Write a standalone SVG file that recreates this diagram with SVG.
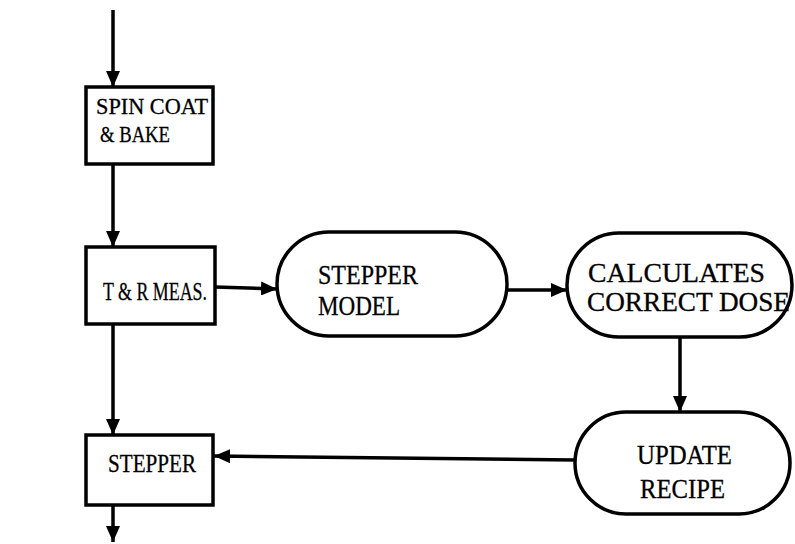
<svg xmlns="http://www.w3.org/2000/svg" width="795" height="544" viewBox="0 0 795 544">
  <defs>
    <marker id="head" viewBox="0 0 16 14" refX="16" refY="7" markerWidth="16" markerHeight="14" orient="auto" markerUnits="userSpaceOnUse">
      <path d="M0,0 L16,7 L0,14 Z" fill="#000"/>
    </marker>
  </defs>
  <style>
    .box { fill: #fff; stroke: #000; stroke-width: 3.5; }
    .line { fill: none; stroke: #000; stroke-width: 3.5; marker-end: url(#head); }
    text { font-family: 'Liberation Serif', 'Times New Roman', Times, serif; font-size: 26px; fill: #000; stroke: #000; stroke-width: 0.3; }
    .small { font-size: 23px; }
    .big { font-size: 27px; }
  </style>
  <rect width="795" height="544" fill="#fff"/>

  <!-- flow connectors -->
  <g id="connectors">
    <line class="line" x1="113" y1="10" x2="113" y2="87"/>
    <line class="line" x1="113" y1="164" x2="113" y2="247"/>
    <line class="line" x1="215" y1="287" x2="277" y2="289"/>
    <line class="line" x1="507" y1="290" x2="567" y2="290"/>
    <line class="line" x1="680" y1="337" x2="680" y2="412"/>
    <line class="line" x1="575" y1="460" x2="214" y2="456"/>
    <line class="line" x1="113" y1="324" x2="113" y2="435"/>
    <line class="line" x1="113" y1="505" x2="113" y2="542"/>
  </g>

  <g id="spin-coat">
    <rect class="box" x="86" y="87" width="127" height="77"/>
    <text class="small" x="96" y="114" textLength="112" lengthAdjust="spacingAndGlyphs">SPIN COAT</text>
    <text class="small" x="100" y="142" textLength="70" lengthAdjust="spacingAndGlyphs">&amp; BAKE</text>
  </g>

  <g id="tr-meas">
    <rect class="box" x="86" y="247" width="129" height="77"/>
    <text x="103" y="300" textLength="104" lengthAdjust="spacingAndGlyphs">T &amp; R MEAS.</text>
  </g>

  <g id="stepper-model">
    <rect class="box" x="277" y="232" width="230" height="104" rx="52" ry="52"/>
    <text class="big" x="318" y="284" textLength="100" lengthAdjust="spacingAndGlyphs">STEPPER</text>
    <text class="big" x="318" y="315" textLength="82" lengthAdjust="spacingAndGlyphs">MODEL</text>
  </g>

  <g id="calc-dose">
    <rect class="box" x="567" y="233" width="225" height="104" rx="52" ry="52"/>
    <text class="big" x="588" y="282" textLength="177" lengthAdjust="spacingAndGlyphs">CALCULATES</text>
    <text class="big" x="587" y="311" textLength="203" lengthAdjust="spacingAndGlyphs">CORRECT DOSE</text>
  </g>

  <g id="update-recipe">
    <rect class="box" x="575" y="412" width="215" height="102" rx="51" ry="51"/>
    <text class="big" x="637" y="464" textLength="95" lengthAdjust="spacingAndGlyphs">UPDATE</text>
    <text class="big" x="640" y="498" textLength="85" lengthAdjust="spacingAndGlyphs">RECIPE</text>
  </g>

  <g id="stepper">
    <rect class="box" x="86" y="435" width="127" height="70"/>
    <text x="108" y="472" textLength="88" lengthAdjust="spacingAndGlyphs">STEPPER</text>
  </g>
</svg>
